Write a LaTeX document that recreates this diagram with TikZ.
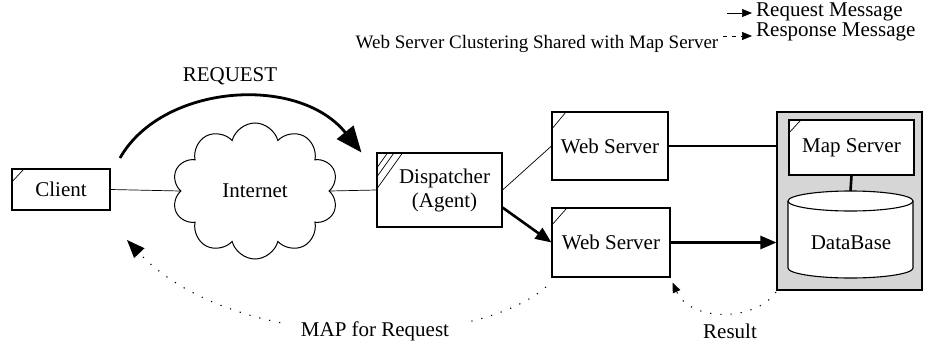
\documentclass[tikz,border=0pt]{standalone}
\usepackage{fontspec}
\setmainfont{Liberation Serif}
\usetikzlibrary{arrows.meta,calc,shapes.symbols}

\tikzset{
  box/.style={draw, line width=1.1pt, rectangle, inner sep=0pt, align=center, fill=white},
  wire/.style={line width=0.7pt},
  heavy/.style={line width=2.6pt, -{Triangle[length=16pt,width=13pt]}},
  reply/.style={line width=1.1pt, dash pattern=on 1.2pt off 9pt},
  lbl/.style={inner sep=1pt},
}

\begin{document}
\begin{tikzpicture}[x=1pt,y=-1pt,font=\fontsize{21}{24}\selectfont]
\useasboundingbox (0,0) rectangle (948,351);

% clustered map server enclosure
\node[draw, line width=1.1pt, fill=black!16, minimum width=145pt, minimum height=178pt, inner sep=0pt] (encl) at (849.5,201) {};

% boxes
\node[box, minimum width=98pt, minimum height=41pt] (client) at (61,189.5) {Client};
\node[draw, cloud, cloud puffs=10, aspect=1.2, line width=1pt, minimum width=166pt, minimum height=136pt, inner sep=0pt] (net) at (255,191) {Internet};
\node[box, minimum width=125pt, minimum height=74pt] (disp) at (439.5,190) {\hspace*{10pt}Dispatcher\\\hspace*{10pt}(Agent)};
\node[box, minimum width=116pt, minimum height=68pt] (ws1) at (610,146) {Web Server};
\node[box, minimum width=118pt, minimum height=69pt] (ws2) at (611,242.5) {Web Server};
\node[box, minimum width=125pt, minimum height=55pt] (ms) at (851.5,147.5) {Map Server};

% database cylinder
\coordinate (dbtop) at (850.5,201);
\draw[line width=1.1pt, fill=white] (788,201) -- (788,268) arc[start angle=180, end angle=360, x radius=62.5pt, y radius=10pt] -- (913,201) arc[start angle=0, end angle=180, x radius=62.5pt, y radius=10pt] -- cycle;
\draw[line width=1.1pt] (913,201) arc[start angle=0, end angle=-180, x radius=62.5pt, y radius=10pt];
\node (db) at (851,243) {DataBase};

% folded corner marks
\draw[wire] ($(client.north west)+(0,14)$) -- ($(client.north west)+(13,0)$);
\draw[wire] ($(ws1.north west)+(0,18)$) -- ($(ws1.north west)+(15,0)$);
\draw[wire] ($(ws2.north west)+(0,18)$) -- ($(ws2.north west)+(16,0)$);
\draw[wire] ($(ms.north west)+(0,14)$) -- ($(ms.north west)+(13,0)$);
\foreach \d in {16,25,37}
  \draw[wire] ($(disp.north west)+(0,\d)$) -- ($(disp.north west)+(\d/1.4,0)$);

% links
\draw[wire] (client.east) -- (net.west);
\draw[wire] (net.east) -- (disp.west);
\draw[wire] (disp.east) -- (ws1.west);
\draw[heavy] ($(disp.south east)+(0,-20)$) -- (ws2.west);
\draw[line width=1.1pt] (ws1.east) -- (ws1.east -| encl.west);
\draw[heavy] (ws2.east) -- (ws2.east -| encl.west);
\draw[line width=2.6pt] (ms.south) -- ($(dbtop)+(0,-10)$);

% request arc over the internet
\coordinate (reqstart) at (120,158);
\draw[line width=2.8pt, -{Triangle[length=26pt,width=21pt]}] (reqstart) .. controls (162,84) and (298,74) .. ($(disp.north west)+(-15,0)$);
\node[lbl] (reqlbl) at (230,76) {REQUEST};

% response paths
\coordinate (mapfrom) at (546,287);
\coordinate (mapto) at (127,240);
\draw[reply, -{Triangle[length=18pt,width=14pt]}] (mapfrom) .. controls (470,352) and (232,352) .. (mapto);
\node[lbl, fill=white, inner xsep=16pt] (maplbl) at (375,331) {MAP for Request};

\coordinate (resfrom) at (776,292);
\draw[reply, -{Triangle[length=10pt,width=8pt]}] (resfrom) .. controls (755,322) and (690,322) .. ($(ws2.south east)+(2,5)$);
\node[lbl] (reslbl) at (730,331) {Result};

% caption and legend
\node[lbl, font=\fontsize{19}{22}\selectfont] (title) at (537,44) {Web Server Clustering Shared with Map Server};
\coordinate (l1a) at (727,13);
\coordinate (l1b) at (752,13);
\draw[wire, -{Triangle[length=10pt,width=8pt]}] (l1a) -- (l1b);
\node[lbl, anchor=west, font=\fontsize{21}{24}\selectfont] (leg1) at (755,12) {Request Message};
\coordinate (l2a) at (723,36);
\coordinate (l2b) at (752,36);
\draw[wire, dash pattern=on 4pt off 5pt, -{Triangle[length=10pt,width=8pt]}] (l2a) -- (l2b);
\node[lbl, anchor=west, font=\fontsize{21}{24}\selectfont] (leg2) at (755,32) {Response Message};
\end{tikzpicture}
\end{document}
